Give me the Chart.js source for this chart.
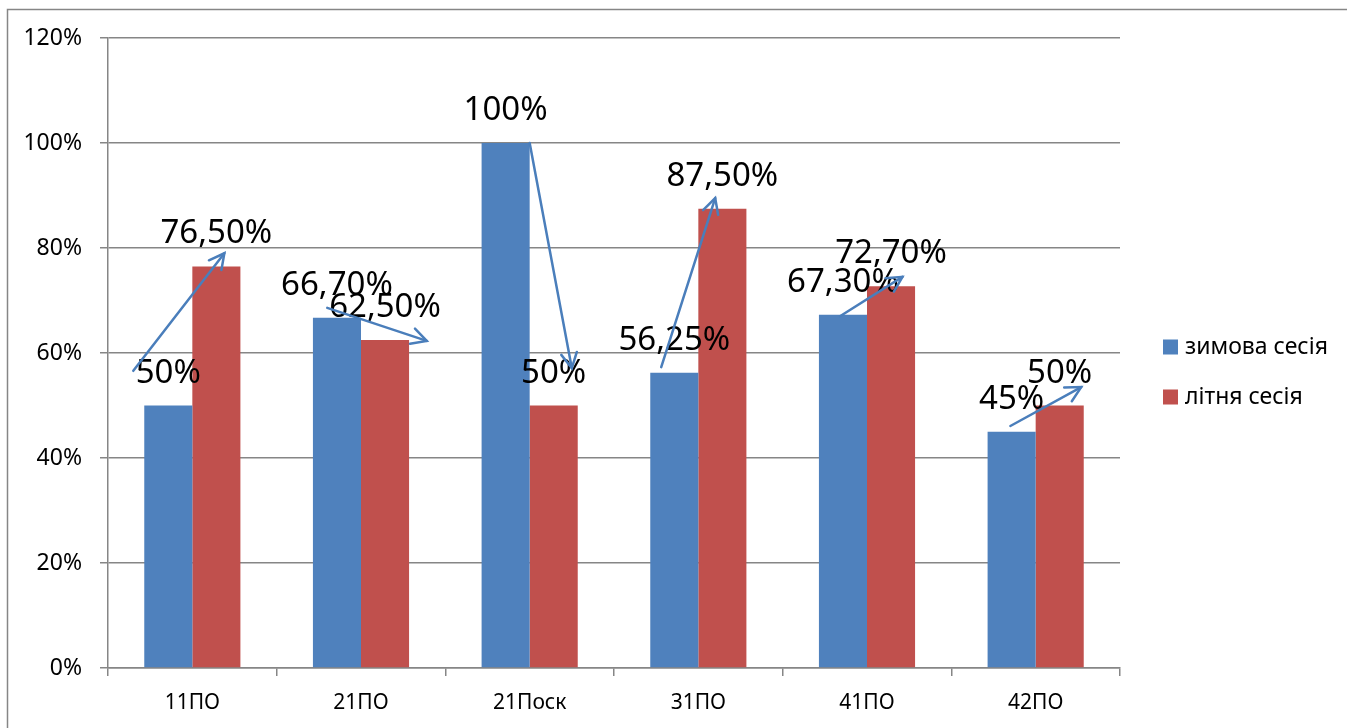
<!DOCTYPE html>
<html>
<head>
<meta charset="utf-8">
<script src="https://cdn.jsdelivr.net/npm/chart.js@4.4.1/dist/chart.umd.min.js"></script>
<style>
html,body{margin:0;padding:0;background:#fff;}
#wrap{width:1347px;height:728px;position:relative;}
</style>
</head>
<body>
<div id="wrap"><canvas id="c" width="1347" height="728"></canvas></div>
<script>
// ---- data ----
const categories = ['11ПО', '21ПО', '21Поск', '31ПО', '41ПО', '42ПО'];
const winterLabel = 'зимова сесія';
const summerLabel = 'літня сесія';
const winterValues = [50, 66.7, 100, 56.25, 67.3, 45];
const summerValues = [76.5, 62.5, 50, 87.5, 72.7, 50];
const yTicks = [0, 20, 40, 60, 80, 100, 120];
// trend arrows (category position, value) -> (category position, value)
const arrowFrom = [[-0.35, 56.6], [0.80, 68.6], [2.00, 100], [2.78, 57.3], [3.84, 67.0], [4.85, 46.1]];
const arrowTo   = [[0.19, 79.0], [1.39, 62.3], [2.25, 57.1], [3.10, 89.5], [4.21, 74.5], [5.27, 53.5]];

const BLUE = '#4F81BD', RED = '#C0504D', GRID = '#868686', ARROW = '#4A7EBB';
const FONT = "'Noto Sans', 'Liberation Sans', sans-serif";

function fmt(v) {
  if (Number.isInteger(v)) return v + '%';
  return v.toFixed(2).replace('.', ',') + '%';
}

const framePlugin = {
  id: 'frame',
  beforeDraw(chart) {
    const ctx = chart.ctx;
    ctx.save();
    ctx.strokeStyle = GRID;
    ctx.lineWidth = 1.5;
    ctx.beginPath();
    ctx.moveTo(7.5, 740);
    ctx.lineTo(7.5, 9.5);
    ctx.lineTo(1360, 9.5);
    ctx.stroke();
    ctx.restore();
  }
};

const labelsPlugin = {
  id: 'valueLabels',
  afterDatasetsDraw(chart) {
    const ctx = chart.ctx;
    ctx.save();
    ctx.font = "33px " + FONT;
    ctx.fillStyle = '#000';
    ctx.textAlign = 'center';
    ctx.textBaseline = 'alphabetic';
    chart.data.datasets.forEach((ds, di) => {
      const meta = chart.getDatasetMeta(di);
      meta.data.forEach((bar, i) => {
        ctx.fillText(fmt(ds.data[i]), bar.x, bar.y - 23);
      });
    });
    // arrows
    const xs = chart.scales.x, ys = chart.scales.y;
    ctx.strokeStyle = ARROW;
    ctx.lineWidth = 2.5;
    ctx.lineCap = 'round';
    arrowFrom.forEach((f, k) => {
      const t = arrowTo[k];
      const x1 = xs.getPixelForValue(f[0]), y1 = ys.getPixelForValue(f[1]);
      const x2 = xs.getPixelForValue(t[0]), y2 = ys.getPixelForValue(t[1]);
      ctx.beginPath();
      ctx.moveTo(x1, y1);
      ctx.lineTo(x2, y2);
      ctx.stroke();
      const ang = Math.atan2(y2 - y1, x2 - x1);
      const L = 17, th = Math.PI / 6.5;
      ctx.beginPath();
      ctx.moveTo(x2 - L * Math.cos(ang - th), y2 - L * Math.sin(ang - th));
      ctx.lineTo(x2, y2);
      ctx.lineTo(x2 - L * Math.cos(ang + th), y2 - L * Math.sin(ang + th));
      ctx.stroke();
    });
    ctx.restore();
  }
};

const legendPlugin = {
  id: 'sideLegend',
  afterDraw(chart) {
    const ctx = chart.ctx;
    ctx.save();
    ctx.font = "23px " + FONT;
    ctx.fillStyle = '#000';
    ctx.textAlign = 'left';
    ctx.textBaseline = 'middle';
    const x0 = 1163, y0 = 347, gap = 50;
    chart.data.datasets.forEach((ds, i) => {
      const y = y0 + i * gap;
      ctx.fillStyle = ds.backgroundColor;
      ctx.fillRect(x0, y - 7.5, 15, 15);
      ctx.fillStyle = '#000';
      ctx.fillText(ds.label, x0 + 22, y);
    });
    ctx.restore();
  }
};

new Chart(document.getElementById('c'), {
  type: 'bar',
  data: {
    labels: categories,
    datasets: [
      { label: winterLabel, data: winterValues, backgroundColor: BLUE, borderWidth: 0 },
      { label: summerLabel, data: summerValues, backgroundColor: RED, borderWidth: 0 }
    ]
  },
  options: {
    responsive: false,
    animation: false,
    devicePixelRatio: 1,
    layout: { padding: { left: 0, top: 38, right: 227, bottom: 0 } },
    datasets: { bar: { categoryPercentage: 0.57, barPercentage: 1.0 } },
    plugins: { legend: { display: false }, tooltip: { enabled: false } },
    scales: {
      x: {
        grid: { drawOnChartArea: false, drawTicks: true, tickLength: 8, color: GRID, lineWidth: 1.5 },
        border: { color: GRID, width: 1.5 },
        ticks: { color: '#000', font: { family: FONT, size: 21 }, padding: 14, maxRotation: 0 },
        afterFit(s) { s.height = 60; }
      },
      y: {
        min: 0, max: 120,
        afterBuildTicks(s) { s.ticks = yTicks.map(v => ({ value: v })); },
        grid: { color: GRID, lineWidth: 1.5, tickLength: 8 },
        border: { color: GRID, width: 1.5 },
        ticks: { color: '#000', font: { family: FONT, size: 23 }, padding: 18, callback: v => v + '%' },
        afterFit(s) { s.width = 108; }
      }
    }
  },
  plugins: [framePlugin, labelsPlugin, legendPlugin]
});
</script>
</body>
</html>
